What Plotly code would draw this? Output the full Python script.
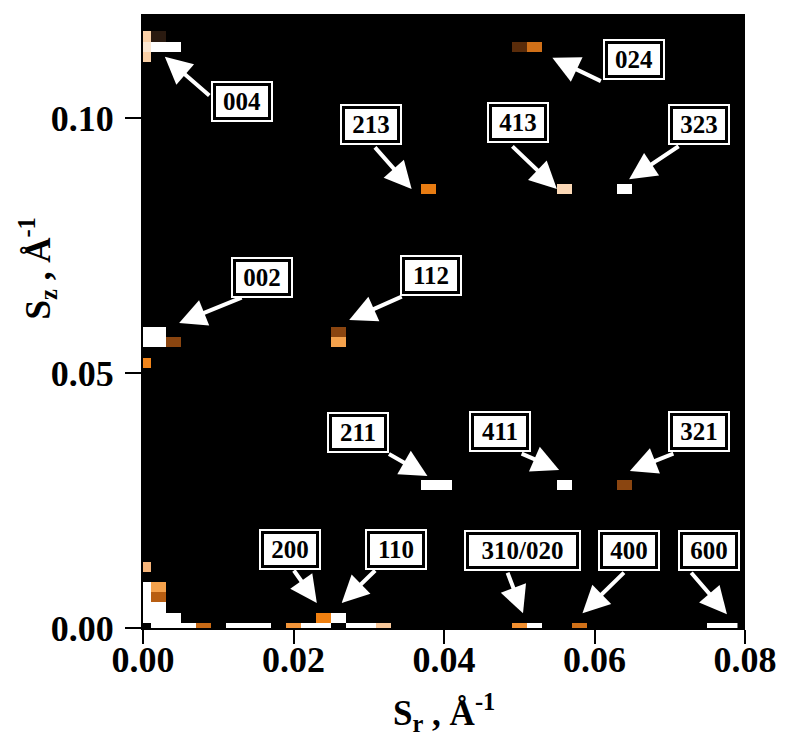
import numpy as np
import plotly.graph_objects as go

# ---- data: diffraction spots (S_r, S_z, relative intensity 0..1) ----
spot_sr = [0.000, 0.000, 0.000, 0.000, 0.000, 0.000, 0.000, 0.000, 0.000, 0.000, 0.000,
           0.002, 0.002, 0.002, 0.002, 0.002, 0.002, 0.002, 0.002, 0.002,
           0.004, 0.004, 0.004, 0.004,
           0.006, 0.008, 0.012, 0.014, 0.016, 0.020, 0.022, 0.024, 0.024, 0.026,
           0.028, 0.030, 0.032,
           0.026, 0.026,
           0.038, 0.038, 0.040,
           0.050, 0.050, 0.052, 0.052,
           0.056, 0.056, 0.058,
           0.064, 0.064,
           0.076, 0.078]
spot_sz = [0.002, 0.004, 0.006, 0.008, 0.012, 0.052, 0.056, 0.058, 0.112, 0.114, 0.116,
           0.000, 0.002, 0.004, 0.006, 0.008, 0.056, 0.058, 0.114, 0.116,
           0.000, 0.002, 0.056, 0.114,
           0.000, 0.000, 0.000, 0.000, 0.000, 0.000, 0.000, 0.000, 0.002, 0.002,
           0.000, 0.000, 0.000,
           0.056, 0.058,
           0.086, 0.028, 0.028,
           0.000, 0.114, 0.000, 0.114,
           0.086, 0.028, 0.000,
           0.086, 0.028,
           0.000, 0.000]
spot_int = [1.00, 1.00, 1.00, 1.00, 0.80, 0.64, 1.00, 1.00, 0.88, 0.94, 0.88,
            1.00, 1.00, 1.00, 0.48, 0.74, 1.00, 1.00, 1.00, 0.12,
            1.00, 1.00, 0.40, 1.00,
            1.00, 0.52, 1.00, 1.00, 1.00, 0.70, 1.00, 1.00, 0.62, 1.00,
            1.00, 1.00, 0.86,
            0.74, 0.40,
            0.60, 1.00, 1.00,
            0.68, 0.28, 1.00, 0.54,
            0.90, 1.00, 0.54,
            1.00, 0.40,
            1.00, 1.00]

# grid of the map
grid_sr = [round(0.002 * i, 3) for i in range(40)]
grid_sz = [round(0.002 * j, 3) for j in range(61)]

# reflection labels
labels = ["004", "024", "213", "413", "323", "002", "112", "211", "411", "321",
          "200", "110", "310/020", "400", "600"]
# arrow tip position (data units)
tip_sr = [0.0029, 0.0544, 0.0357, 0.0550, 0.0646, 0.0048, 0.0274, 0.0378, 0.0553, 0.0647,
          0.0231, 0.0264, 0.0505, 0.0584, 0.0776]
tip_sz = [0.1120, 0.1118, 0.0861, 0.0861, 0.0880, 0.0598, 0.0604, 0.0298, 0.0310, 0.0308,
          0.0049, 0.0049, 0.0029, 0.0029, 0.0027]
# arrow tail offset from the tip (px)
tail_dx = [46, 50, -38, -46, 51, 64, 54, -40, -39, 45, -24, 35, -16, 43, -37]
tail_dy = [40, 24, -43, -44, -34, -26, -24, -23, -17, -18, -34, -34, -42, -42, -43]
# label box centre offset from the tip (px)
box_dx = [77, 82, -41, -39, 70, 83, 82, -69, -59, 69, -27, 54, -1, 47, -18]
box_dy = [45, 2, -64, -66, -55, -46, -44, -44, -38, -39, -54, -54, -63, -63, -64]

x_ticks = [0.00, 0.02, 0.04, 0.06, 0.08]
y_ticks = [0.00, 0.05, 0.10]

# ---- build map ----
z = np.zeros((len(grid_sz), len(grid_sr)))
for sr, sz, v in zip(spot_sr, spot_sz, spot_int):
    i = int(round(sr / 0.002))
    j = int(round(sz / 0.002))
    z[j, i] = v

colorscale = [
    [0.00, "#000000"],
    [0.12, "#2a1a10"],
    [0.28, "#5a2c0a"],
    [0.40, "#8a4510"],
    [0.48, "#b85e12"],
    [0.54, "#d07018"],
    [0.62, "#f08010"],
    [0.70, "#f2953a"],
    [0.74, "#f5a24c"],
    [0.80, "#f6b47a"],
    [0.88, "#f9cfa6"],
    [1.00, "#ffffff"],
]

fig = go.Figure()
fig.add_trace(go.Heatmap(x=grid_sr, y=grid_sz, z=z, colorscale=colorscale,
                         zmin=0, zmax=1, showscale=False, hoverinfo="skip"))

serif = "Liberation Serif"
# arrows
for xs, ys, tx, ty in zip(tip_sr, tip_sz, tail_dx, tail_dy):
    fig.add_annotation(x=xs, y=ys, xref="x", yref="y", text="", showarrow=True,
                       ax=tx, ay=ty, axref="pixel", ayref="pixel",
                       arrowcolor="white", arrowwidth=4, arrowhead=2, arrowsize=1.35,
                       standoff=0, startstandoff=0)
# label boxes
for lab, xs, ys, dx, dy in zip(labels, tip_sr, tip_sz, box_dx, box_dy):
    w = 103 if len(lab) > 3 else 48
    fig.add_annotation(x=xs, y=ys, xref="x", yref="y", text="<b>" + lab + "</b>",
                       showarrow=False, xshift=dx, yshift=-dy,
                       xanchor="center", yanchor="middle",
                       width=w, height=27, borderpad=5, borderwidth=2,
                       bordercolor="white", bgcolor="black",
                       font=dict(family=serif, size=25, color="black"))
    fig.add_annotation(x=xs, y=ys, xref="x", yref="y", text="<b>" + lab + "</b>",
                       showarrow=False, xshift=dx, yshift=-dy,
                       xanchor="center", yanchor="middle",
                       width=w, height=27, borderpad=2, borderwidth=0,
                       bgcolor="white",
                       font=dict(family=serif, size=25, color="black"))

# axis titles
fig.add_annotation(text="<b>S<sub>r</sub> , Å<sup>-1</sup></b>", xref="paper", yref="paper",
                   x=0.5, y=-0.137, xanchor="center", yanchor="middle", showarrow=False,
                   font=dict(family=serif, size=35, color="black"))
fig.add_annotation(text="<b>S<sub>z</sub> , Å<sup>-1</sup></b>", xref="paper", yref="paper",
                   x=-0.175, y=0.585, xanchor="center", yanchor="middle", showarrow=False,
                   textangle=-90,
                   font=dict(family=serif, size=35, color="black"))

tickfont = dict(family=serif, size=36, color="black")
fig.update_xaxes(range=[0, 0.08], tickvals=x_ticks,
                 ticktext=[f"<b>{v:.2f}</b>" for v in x_ticks],
                 showgrid=False, zeroline=False, showline=True, linecolor="black", linewidth=2,
                 ticks="outside", ticklen=14, tickwidth=2, tickcolor="black",
                 tickfont=tickfont, ticklabelstandoff=-15)
fig.update_yaxes(range=[0, 0.1204], tickvals=y_ticks,
                 ticktext=[f"<b>{v:.2f}</b>" for v in y_ticks],
                 showgrid=False, zeroline=False, showline=True, linecolor="black", linewidth=2,
                 ticks="outside", ticklen=16, tickwidth=2, tickcolor="black",
                 tickfont=tickfont, ticklabelstandoff=4)

fig.update_layout(width=789, height=736, margin=dict(l=143, r=34, t=14, b=108),
                  paper_bgcolor="white", plot_bgcolor="black", showlegend=False)

fig.write_html("out.html")
